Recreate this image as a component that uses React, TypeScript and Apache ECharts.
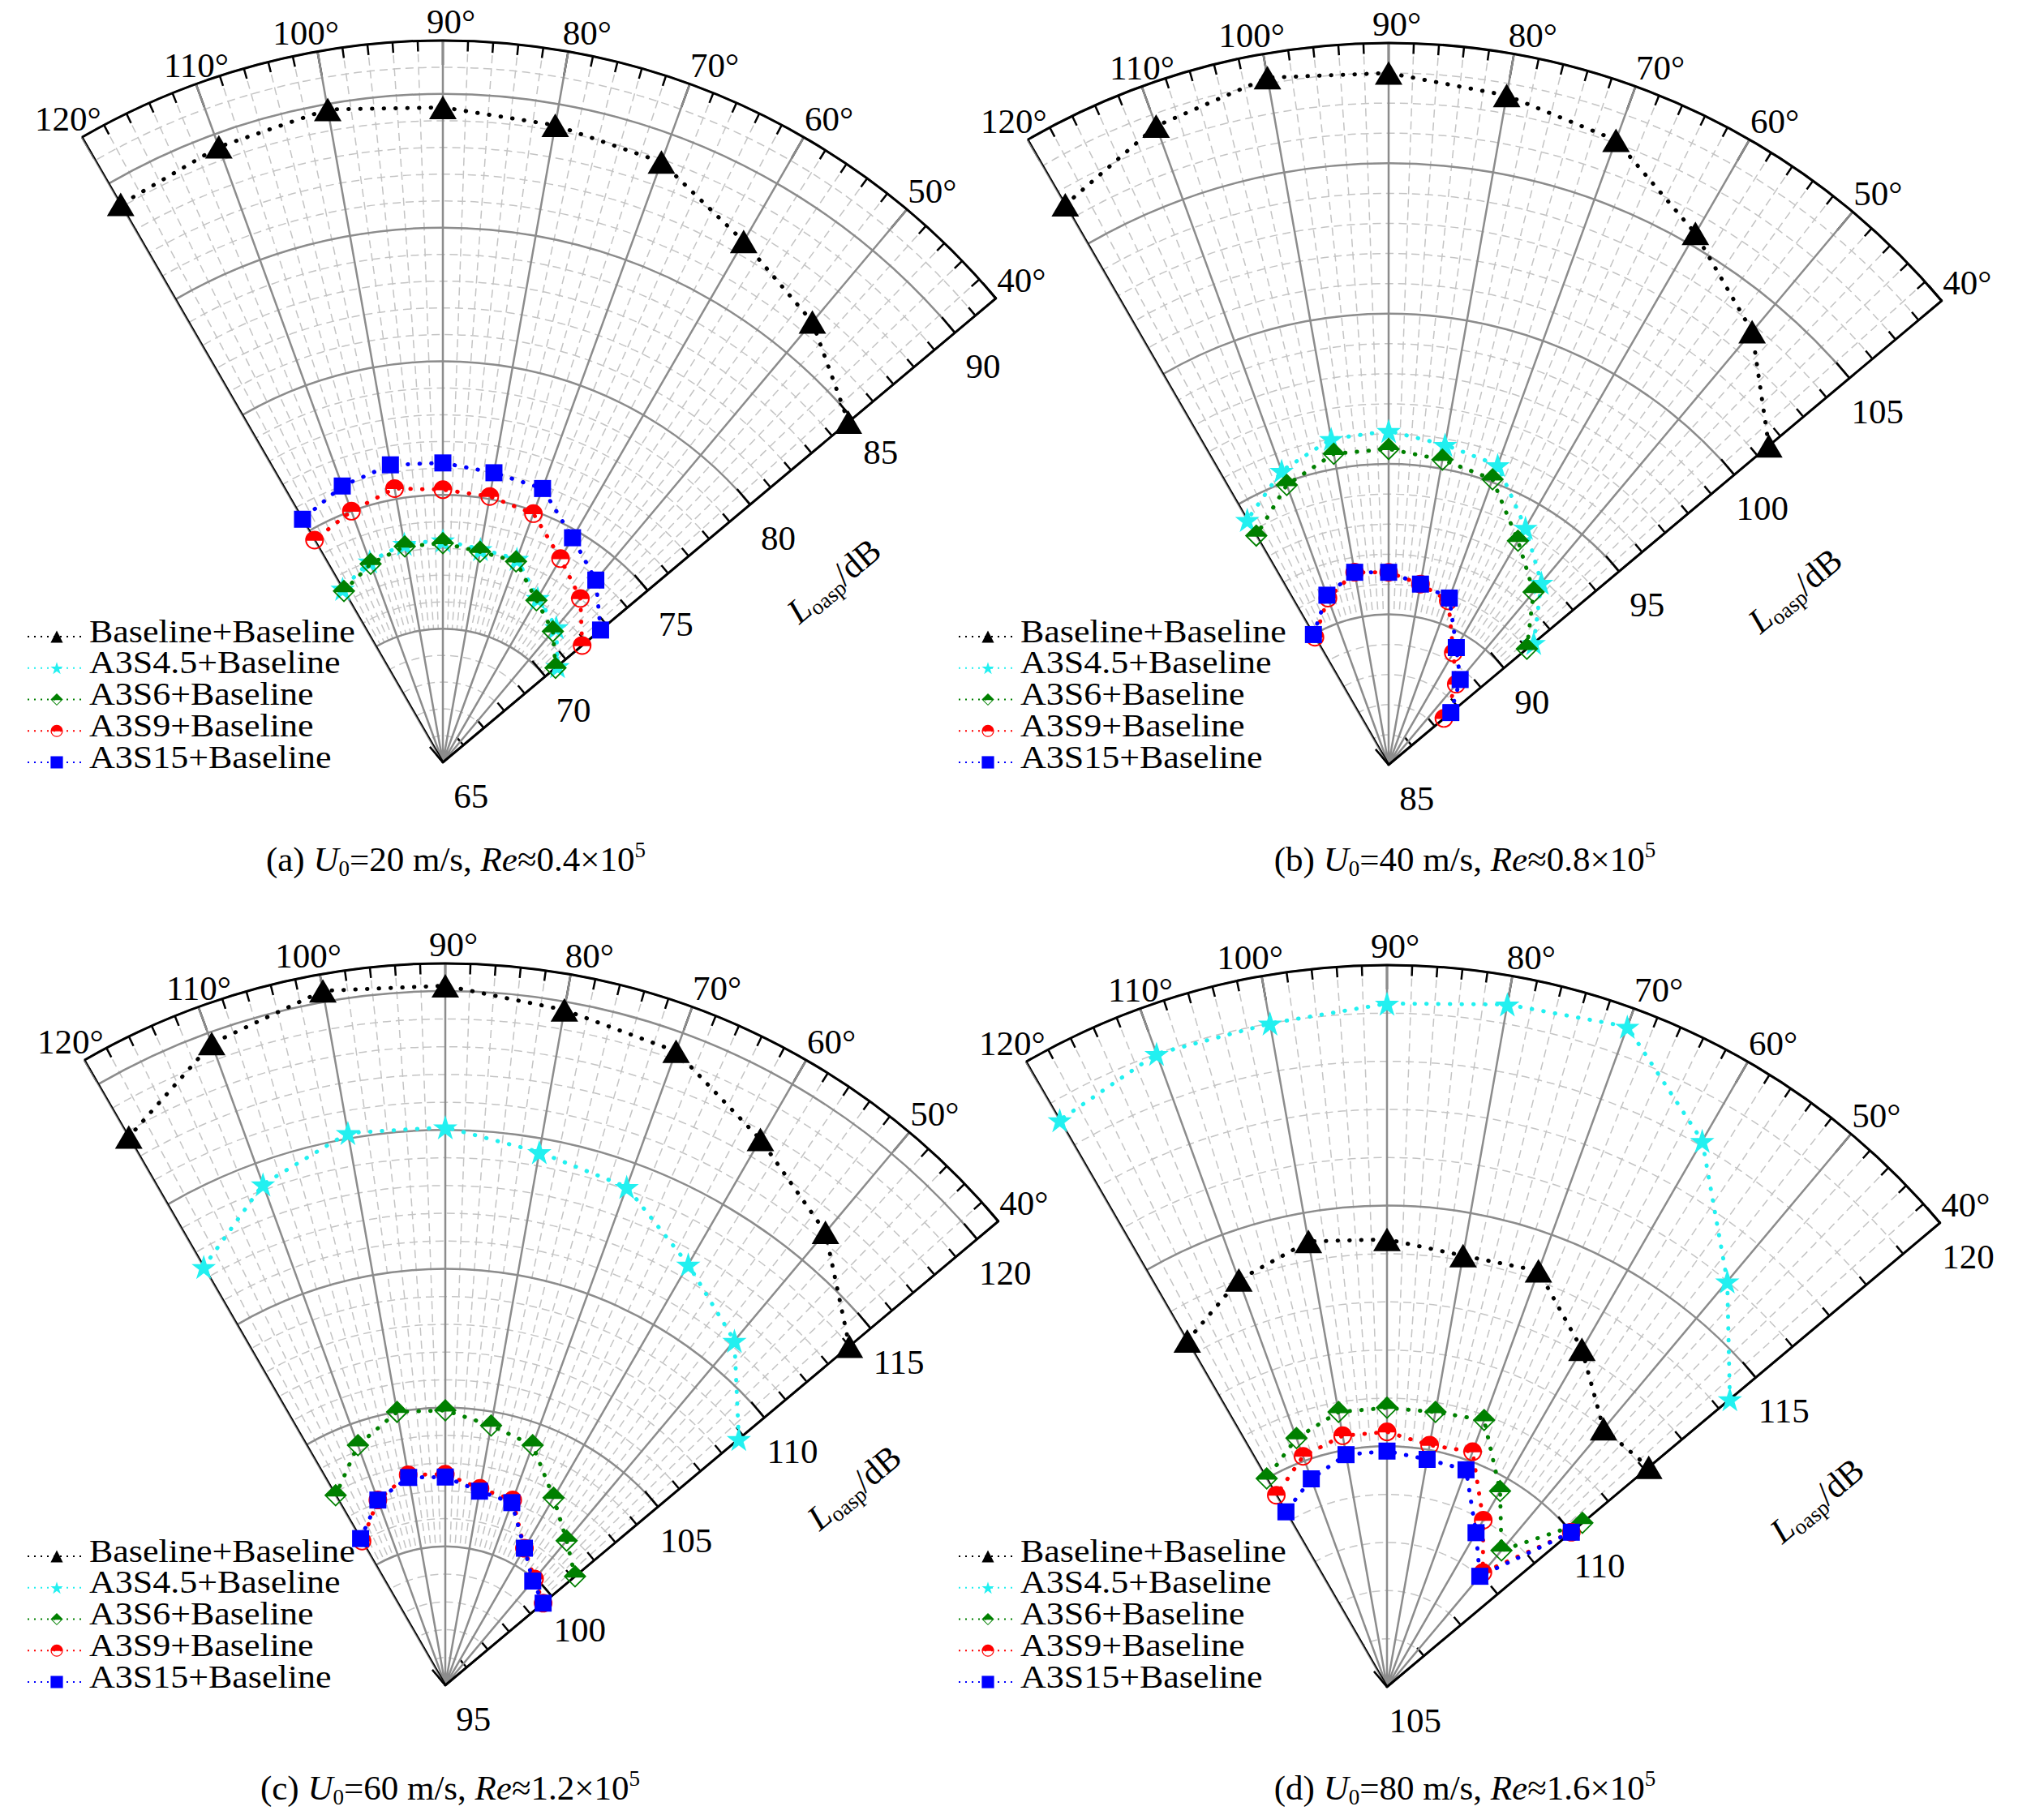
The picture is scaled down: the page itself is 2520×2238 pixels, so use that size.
import React, { useEffect, useRef } from 'react';
import * as echarts from 'echarts';

// ---------- data ----------
const ANGLES = [40, 50, 60, 70, 80, 90, 100, 110, 120];
const SERIES_NAMES = ['Baseline+Baseline', 'A3S4.5+Baseline', 'A3S6+Baseline', 'A3S9+Baseline', 'A3S15+Baseline'];

// (a) U0 = 20 m/s
const A_BASELINE = [84.8, 86.5, 87.5, 88.9, 89.2, 89.5, 89.8, 89.5, 89.1];
const A_S45 = [70.6, 71.6, 72.1, 73.1, 73.1, 73.3, 73.3, 73.0, 72.5];
const A_S6 = [70.5, 71.4, 72.0, 73.0, 73.0, 73.2, 73.2, 72.9, 72.4];
const A_S9 = [71.8, 73.0, 73.8, 74.9, 75.1, 75.2, 75.4, 75.0, 74.6];
const A_S15 = [72.7, 73.9, 74.7, 75.9, 76.0, 76.2, 76.3, 76.0, 75.5];

// (b) U0 = 40 m/s
const B_BASELINE = [101.5, 103.8, 105.4, 107.1, 107.6, 108.0, 108.2, 107.6, 106.5];
const B_S45 = [91.3, 92.9, 94.1, 95.6, 95.8, 96.1, 96.0, 95.4, 94.4];
const B_S6 = [91.0, 92.5, 93.6, 95.1, 95.3, 95.5, 95.5, 94.9, 93.8];
const B_S9 = [87.4, 88.5, 89.3, 90.8, 91.1, 91.4, 91.5, 90.9, 89.9];
const B_S15 = [87.7, 88.7, 89.5, 90.9, 91.1, 91.4, 91.5, 91.0, 90.0];

// (c) U0 = 60 m/s
const C_BASELINE = [114.0, 116.3, 117.7, 119.3, 119.7, 120.2, 120.4, 119.6, 117.8];
const C_S45 = [108.8, 111.2, 112.5, 114.1, 114.5, 115.1, 115.2, 114.2, 112.4];
const C_S6 = [101.1, 101.8, 102.8, 104.2, 104.5, 104.9, 105.0, 104.2, 102.9];
const C_S9 = [99.6, 100.0, 100.7, 102.1, 102.2, 102.6, 102.7, 102.1, 101.0];
const C_S15 = [99.6, 99.9, 100.7, 102.0, 102.1, 102.5, 102.6, 102.1, 101.1];

// (d) U0 = 80 m/s
const D_BASELINE = [112.1, 112.0, 113.1, 114.2, 114.1, 114.3, 114.4, 114.0, 113.3];
const D_S45 = [114.3, 116.0, 118.1, 119.6, 119.4, 119.2, 119.0, 119.0, 118.6];
const D_S6 = [110.3, 108.7, 109.7, 110.9, 110.8, 110.8, 110.8, 110.5, 110.0];
const D_S9 = [110.0, 108.1, 109.0, 110.2, 110.1, 110.3, 110.3, 110.1, 109.6];
const D_S15 = [110.0, 108.0, 108.7, 109.8, 109.8, 109.9, 109.9, 109.6, 109.2];

const PANEL_DATA = [
  [A_BASELINE, A_S45, A_S6, A_S9, A_S15],
  [B_BASELINE, B_S45, B_S6, B_S9, B_S15],
  [C_BASELINE, C_S45, C_S6, C_S9, C_S15],
  [D_BASELINE, D_S45, D_S6, D_S9, D_S15],
];

const RADIUS_MIN = [65, 85, 95, 105];
const RADIUS_MAX = [92, 109, 121, 120];
const PANEL_TAGS = ['(a)', '(b)', '(c)', '(d)'];
const SPEEDS = ['20', '40', '60', '80'];
const RE_VALUES = ['0.4', '0.8', '1.2', '1.6'];

// ---------- layout / style ----------
const LAYOUT = [
  { cx: 546, cy: 940, legendLeft: 33, legendIcon0: 785, capX: 562, capY: 1059, nameX: 1028, nameY: 716 },
  { cx: 1712, cy: 943, legendLeft: 1181, legendIcon0: 785, capX: 1806, capY: 1059, nameX: 2213, nameY: 728 },
  { cx: 549, cy: 2078, legendLeft: 33, legendIcon0: 1919, capX: 555, capY: 2204, nameX: 1053, nameY: 1834 },
  { cx: 1710, cy: 2080, legendLeft: 1181, legendIcon0: 1919, capX: 1806, capY: 2204, nameX: 2240, nameY: 1850 },
];
const R = 890;
const FONT = "'Liberation Serif', 'Times New Roman', serif";
const LABEL_SIZE = 43;
const LEGEND_ICON_W = 72;
const LEGEND_ICON_H = 19;
const LEGEND_SYMBOL = LEGEND_ICON_H * 0.8;
const LEGEND_ROW = 38.75;
const LEGEND_TEXT_DY = -6.7;

const STAR = 'path://M50 0 L61.8 35.1 L98.9 35.1 L68.9 56.8 L80.4 91.9 L50 70.2 L19.6 91.9 L31.1 56.8 L1.1 35.1 L38.2 35.1 Z';
const HALF_DIAMOND = 'path://M50 0 L100 50 L50 100 L0 50 Z M14 55 L50 91 L86 55 Z';
const HALF_CIRCLE = 'path://M2 50 A48 48 0 0 1 98 50 A48 48 0 0 1 2 50 Z M10.1 53 A40 40 0 0 0 89.9 53 Z';

const SERIES_STYLE = [
  { color: '#000000', symbol: 'triangle', size: [34, 29] },
  { color: '#22f0f0', symbol: STAR, size: 30 },
  { color: '#008000', symbol: HALF_DIAMOND, size: 28 },
  { color: '#ff0000', symbol: HALF_CIRCLE, size: 23 },
  { color: '#0000ff', symbol: 'rect', size: 21 },
];

const GRID_MAJOR = '#8c8c8c';
const GRID_MINOR = '#c4c4c4';

// angle-label fine placement (rich styles shift the label box)
const ANGLE_RICH: any = {
  s40: {},
  s50: {},
  s60: {},
  s70: {},
  s80: { padding: [0, 0, 0, 46] },
  s90: { padding: [0, 0, 0, 20] },
  s100: { padding: [0, 28, 0, 0] },
  s110: { width: 39, align: 'left' },
  s120: { width: 57, align: 'left' },
};
Object.keys(ANGLE_RICH).forEach((k) => {
  ANGLE_RICH[k] = { fontSize: LABEL_SIZE, fontFamily: FONT, color: '#000', ...ANGLE_RICH[k] };
});

function buildOption() {
  const polar: any[] = [];
  const angleAxis: any[] = [];
  const radiusAxis: any[] = [];
  const series: any[] = [];
  const legend: any[] = [];
  const graphic: any[] = [];

  LAYOUT.forEach((L, p) => {
    const minorR = 3 * p;
    const minorA = 3 * p + 1;
    const major = 3 * p + 2;
    const r0 = (R * 5) / (RADIUS_MAX[p] - RADIUS_MIN[p]);
    polar.push({ center: [L.cx, L.cy], radius: R });
    polar.push({ center: [L.cx, L.cy], radius: [r0, R] });
    polar.push({ center: [L.cx, L.cy], radius: R });

    const angleBase = {
      type: 'value',
      min: 40,
      max: 120,
      interval: 10,
      startAngle: 40,
      endAngle: 120,
      clockwise: false,
    };
    // 1 dB radius grid + minor ticks
    angleAxis.push({ ...angleBase, polarIndex: minorR, show: false, z: 0 });
    radiusAxis.push({
      polarIndex: minorR,
      type: 'value',
      min: RADIUS_MIN[p],
      max: RADIUS_MAX[p],
      interval: 1,
      z: 0,
      axisLine: { show: false },
      axisTick: { show: true, length: 13, lineStyle: { color: '#000', width: 2.5 } },
      axisLabel: { show: false },
      splitLine: { show: true, lineStyle: { color: GRID_MINOR, width: 1.5, type: [10, 6] } },
    });
    // 2 degree dashed radial lines, starting at the first major ring
    angleAxis.push({
      ...angleBase,
      polarIndex: minorA,
      z: 0,
      axisLine: { show: false },
      axisTick: { show: false },
      axisLabel: { show: false },
      splitLine: { show: false },
      minorTick: { show: false, splitNumber: 5 },
      minorSplitLine: { show: true, lineStyle: { color: GRID_MINOR, width: 1.5, type: [10, 6] } },
    });
    radiusAxis.push({ polarIndex: minorA, type: 'value', min: 0, max: 1, show: false });
    // major axes
    angleAxis.push({
      ...angleBase,
      polarIndex: major,
      z: 1,
      axisLine: { show: true, lineStyle: { color: '#000', width: 3 } },
      axisTick: { show: true, inside: true, length: 30, lineStyle: { color: '#000', width: 2.5 } },
      minorTick: { show: true, splitNumber: 5, length: 13, lineStyle: { color: '#000', width: 2.5 } },
      axisLabel: {
        show: true,
        formatter: (v: number) => `{s${v}|${v}°}`,
        rich: ANGLE_RICH,
        fontSize: LABEL_SIZE,
        fontFamily: FONT,
        color: '#000',
        margin: 2,
      },
      splitLine: { show: true, lineStyle: { color: GRID_MAJOR, width: 2.5 } },
    });
    radiusAxis.push({
      polarIndex: major,
      type: 'value',
      min: RADIUS_MIN[p],
      max: RADIUS_MAX[p],
      interval: 5,
      z: 1,
      axisLine: { show: true, lineStyle: { color: '#000', width: 3 } },
      axisTick: { show: true, length: 25, lineStyle: { color: '#000', width: 2.5 } },
      axisLabel: {
        show: true,
        fontSize: LABEL_SIZE,
        fontFamily: FONT,
        color: '#000',
        margin: -54,
        align: 'center',
        verticalAlign: 'middle',
        formatter: (v: number) => (v % 5 === 0 ? String(v) : ''),
      },
      splitLine: { show: true, lineStyle: { color: GRID_MAJOR, width: 2.5 } },
    });

    // black 120° edge
    series.push({
      type: 'line',
      name: '_edge' + p,
      coordinateSystem: 'polar',
      polarIndex: major,
      data: [[RADIUS_MIN[p], 120], [RADIUS_MAX[p], 120]],
      symbol: 'none',
      silent: true,
      lineStyle: { color: '#000', width: 3, type: 'solid' },
      z: 2,
    });

    PANEL_DATA[p].forEach((vals, s) => {
      const st = SERIES_STYLE[s];
      series.push({
        type: 'line',
        name: SERIES_NAMES[s],
        coordinateSystem: 'polar',
        polarIndex: major,
        data: vals.map((v, i) => [v, ANGLES[i]]),
        symbol: st.symbol,
        symbolSize: st.size,
        silent: true,
        itemStyle: { color: st.color, borderWidth: 0 },
        lineStyle: { color: st.color, width: 5, type: [0.5, 14], cap: 'round' },
        z: 3 + s,
      });
    });

    SERIES_NAMES.forEach((name, s) => {
      const iconY = L.legendIcon0 + s * LEGEND_ROW;
      // legend icon (line + symbol from the series), one legend per row
      legend.push({
        show: true,
        orient: 'vertical',
        left: L.legendLeft,
        top: iconY - LEGEND_SYMBOL / 2,
        padding: 0,
        itemWidth: LEGEND_ICON_W,
        itemHeight: LEGEND_ICON_H,
        selectedMode: false,
        data: [name],
        formatter: () => '',
        textStyle: { fontSize: 8, lineHeight: 8, color: '#000' },
        lineStyle: { width: 2, type: [2, 6], cap: 'butt' },
      });
      // legend text (Origin draws it horizontally widened)
      graphic.push({
        type: 'text',
        x: L.legendLeft + LEGEND_ICON_W + 5,
        y: iconY + LEGEND_TEXT_DY,
        scaleX: 1.1,
        silent: true,
        style: {
          text: name,
          font: `40px ${FONT}`,
          fill: '#000',
          align: 'left',
          verticalAlign: 'middle',
        },
      });
    });

    const rich = {
      n: { fontSize: 43, fontFamily: FONT, lineHeight: 50, fill: '#000' },
      i: { fontSize: 43, fontFamily: FONT, fontStyle: 'italic', lineHeight: 50, fill: '#000' },
      sub: { fontSize: 27, fontFamily: FONT, lineHeight: 27, verticalAlign: 'bottom', fill: '#000' },
      sup: { fontSize: 27, fontFamily: FONT, lineHeight: 27, verticalAlign: 'top', fill: '#000' },
    };
    graphic.push({
      type: 'text',
      x: L.capX,
      y: L.capY,
      silent: true,
      style: {
        text: `{n|${PANEL_TAGS[p]} }{i|U}{sub|0}{n|=${SPEEDS[p]} m/s, }{i|Re}{n|≈${RE_VALUES[p]}×10}{sup|5}`,
        rich,
        font: `43px ${FONT}`,
        fill: '#000',
        align: 'center',
        verticalAlign: 'middle',
      },
    });
    graphic.push({
      type: 'text',
      x: L.nameX,
      y: L.nameY,
      rotation: (40 * Math.PI) / 180,
      silent: true,
      style: {
        text: '{i|L}{sub|oasp}{n|/dB}',
        rich,
        font: `43px ${FONT}`,
        fill: '#000',
        align: 'center',
        verticalAlign: 'middle',
      },
    });
  });

  return {
    animation: false,
    backgroundColor: '#ffffff',
    textStyle: { fontFamily: FONT },
    polar,
    angleAxis,
    radiusAxis,
    legend,
    series,
    graphic,
  };
}

export default function App() {
  const ref = useRef<HTMLDivElement>(null);
  useEffect(() => {
    if (!ref.current) return;
    const chart = echarts.init(ref.current, undefined, { renderer: 'svg' });
    chart.setOption(buildOption() as any);
    return () => chart.dispose();
  }, []);
  return (
    <div
      ref={ref}
      style={{ position: 'absolute', left: 0, top: 0, width: 2520, height: 2238, background: '#fff' }}
    />
  );
}
